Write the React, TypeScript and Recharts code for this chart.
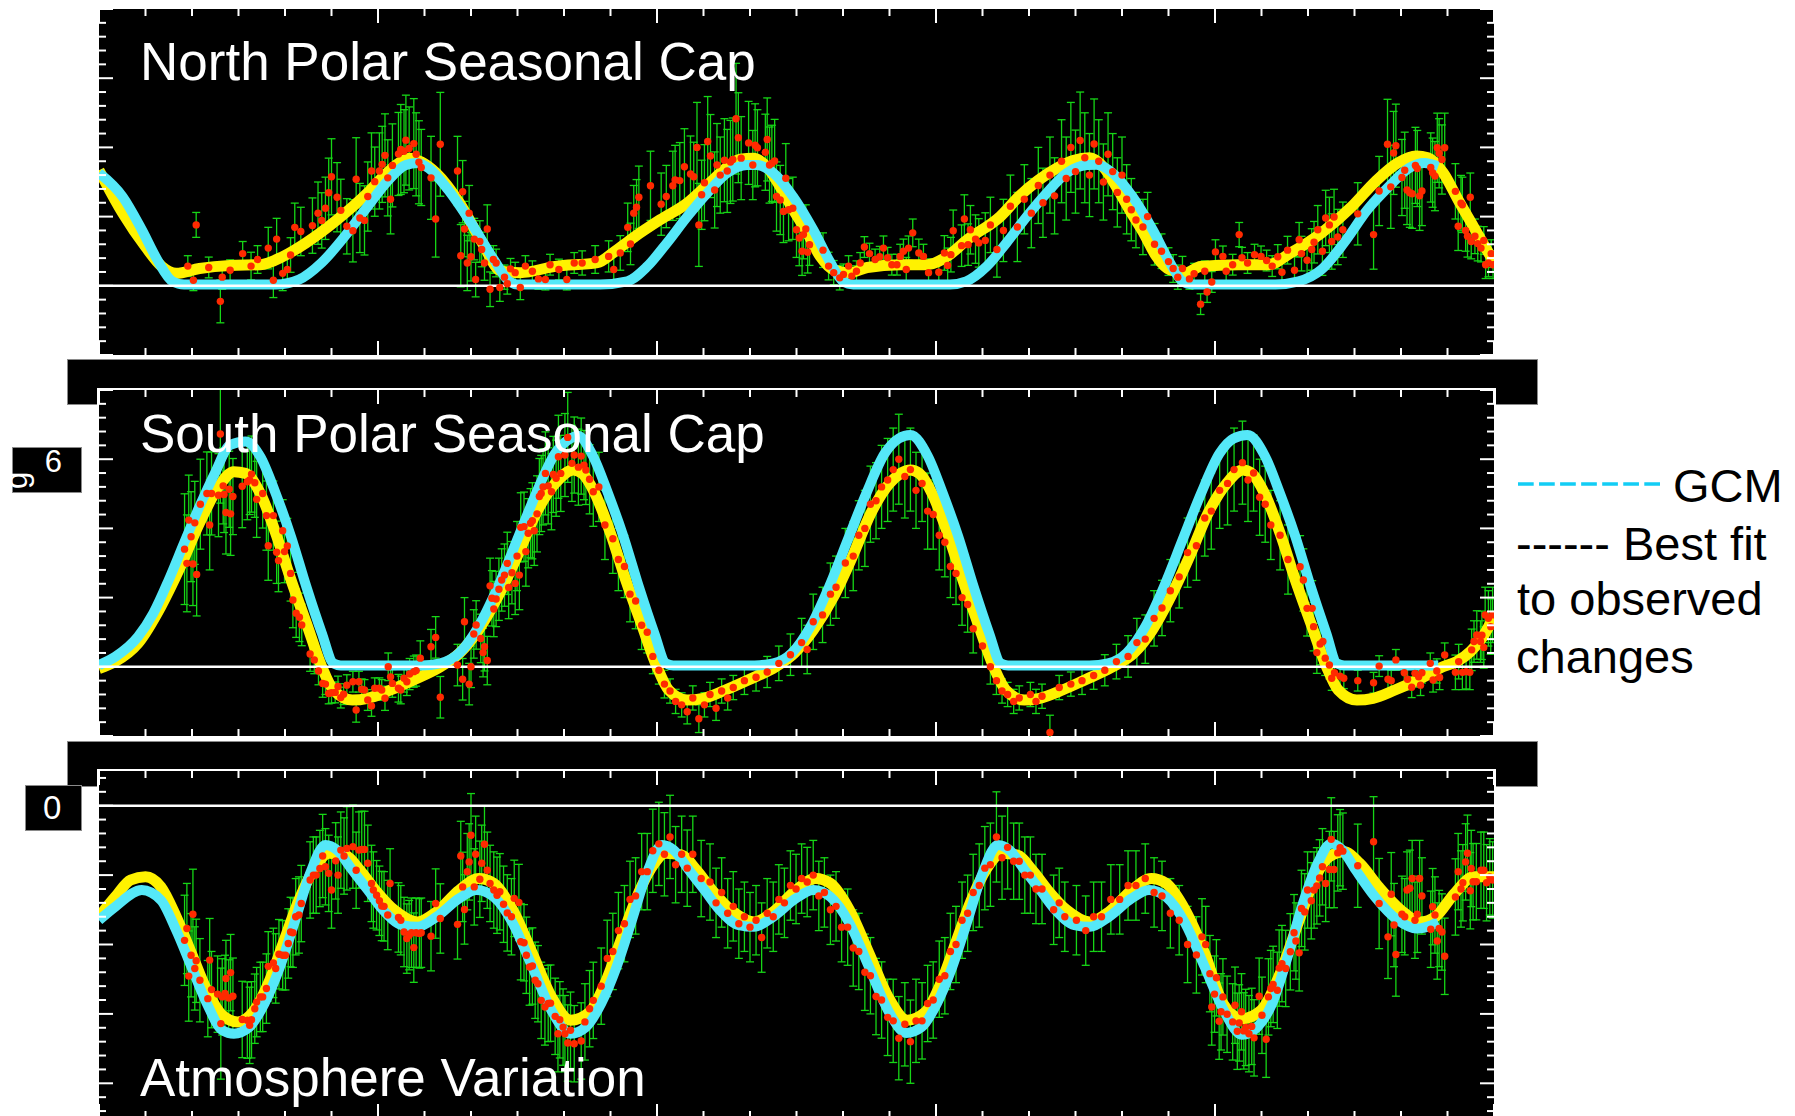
import { ComposedChart, Line, Scatter, ErrorBar, XAxis, YAxis, ReferenceLine } from "recharts";

type Pt = [number, number];
type Obs = [number, number, number]; // x, value, error

// x axis runs over 30 small steps, long tick every 6
const X_TICKS = [0, 1, 2, 3, 4, 5, 6, 7, 8, 9, 10, 11, 12, 13, 14, 15, 16, 17, 18, 19, 20, 21, 22, 23, 24, 25, 26, 27, 28, 29, 30];
const X_MAJOR = [0, 6, 12, 18, 24, 30];
const Y_TICKS_CAP = [-2, -1.6, -1.2, -0.8, -0.4, 0, 0.4, 0.8, 1.2, 1.6, 2, 2.4, 2.8, 3.2, 3.6, 4, 4.4, 4.8, 5.2, 5.6, 6, 6.4, 6.8, 7.2, 7.6, 8];
const Y_TICKS_ATM = [0.8, 0.4, 0, -0.4, -0.8, -1.2, -1.6, -2, -2.4, -2.8, -3.2, -3.6, -4, -4.4, -4.8, -5.2, -5.6, -6, -6.4, -6.8, -7.2, -7.6, -8, -8.4, -8.8];

const TITLES = ["North Polar Seasonal Cap", "South Polar Seasonal Cap", "Atmosphere Variation"];
const LEFT_LABELS = ["6", "0"];
const LEGEND_LINES = ["GCM", "------ Best fit", "to observed", "changes"];

// ---- North polar cap ----
const NORTH_FIT: Pt[] = [
  [0, 3.34], [0.51, 2.1], [1.0, 1.13], [1.35, 0.56], [1.66, 0.36], [2.16, 0.5], [2.82, 0.59], [3.47, 0.61], [3.96, 0.85],
  [4.46, 1.25], [5.12, 1.91], [5.77, 2.68], [6.11, 3.15], [6.44, 3.54], [6.68, 3.69], [6.93, 3.58], [7.25, 3.26], [7.75, 2.4],
  [8.24, 1.25], [8.65, 0.42], [9.06, 0.38], [9.81, 0.56], [10.72, 0.67], [11.06, 0.96], [11.49, 1.39], [12.07, 1.91],
  [12.65, 2.39], [13.08, 2.91], [13.51, 3.43], [13.79, 3.66], [14.07, 3.69], [14.37, 3.43], [14.65, 2.86], [14.93, 2.2],
  [15.23, 1.54], [15.51, 0.85], [15.79, 0.47], [16.15, 0.38], [16.52, 0.53], [17.23, 0.61], [17.81, 0.61], [18.24, 0.85],
  [18.67, 1.33], [19.38, 2.0], [19.8, 2.6], [20.2, 3.05], [20.6, 3.4], [20.95, 3.62], [21.3, 3.7], [21.6, 3.43], [21.88, 2.86],
  [22.16, 2.2], [22.46, 1.54], [22.74, 0.85], [23.02, 0.47], [23.38, 0.38], [23.69, 0.56], [24.5, 0.61], [25.14, 0.61],
  [25.64, 0.96], [26.3, 1.54], [26.95, 2.3], [27.44, 3.0], [27.92, 3.54], [28.33, 3.75], [28.58, 3.7], [28.91, 3.26],
  [29.23, 2.48], [29.56, 1.71], [29.88, 0.96], [30, 0.7],
];
const NORTH_GCM: Pt[] = [
  [0, 3.26], [0.51, 2.57], [0.92, 1.62], [1.25, 0.76], [1.58, 0.13], [1.83, 0.04], [3.8, 0.04], [4.3, 0.18], [4.79, 0.67],
  [5.28, 1.42], [5.77, 2.28], [6.19, 3.0], [6.6, 3.49], [6.85, 3.55], [7.09, 3.4], [7.51, 2.77], [8.0, 1.82], [8.49, 0.76],
  [8.82, 0.13], [8.99, 0.04], [10.78, 0.04], [11.36, 0.13], [11.79, 0.56], [12.22, 1.25], [12.65, 2.0], [13.08, 2.68],
  [13.51, 3.26], [13.94, 3.49], [14.15, 3.49], [14.5, 3.26], [14.93, 2.57], [15.36, 1.62], [15.73, 0.67], [16.0, 0.13],
  [16.22, 0.04], [18.3, 0.04], [18.65, 0.13], [19.09, 0.56], [19.52, 1.25], [19.95, 2.0], [20.38, 2.68], [20.81, 3.26],
  [21.25, 3.49], [21.45, 3.5], [21.8, 3.26], [22.23, 2.57], [22.66, 1.62], [23.03, 0.67], [23.3, 0.13], [23.52, 0.04],
  [25.3, 0.04], [25.8, 0.13], [26.29, 0.47], [26.78, 1.25], [27.28, 2.2], [27.77, 2.91], [28.17, 3.4], [28.5, 3.55], [28.8, 3.45],
];
const NORTH_OBS: Obs[] = [
  [1.91, 0.57, 0.3], [2.03, 0.16, 0.3], [2.09, 1.76, 0.36], [2.36, 0.53, 0.3], [2.61, -0.45, 0.62], [2.65, 0.25, 0.35],
  [2.82, 0.45, 0.3], [3.09, 0.93, 0.35], [3.27, 0.57, 0.4], [3.41, 0.76, 0.4], [3.64, 1.09, 0.6], [3.75, 0.16, 0.5],
  [3.82, 1.35, 0.6], [3.95, 0.36, 0.5], [4.05, 0.47, 0.5], [4.12, 0.89, 0.5], [4.21, 1.69, 0.7], [4.34, 1.57, 0.7],
  [4.59, 1.74, 0.8], [4.71, 2.1, 0.9], [4.79, 1.89, 0.8], [4.87, 2.24, 0.9], [4.94, 2.69, 1.0], [5.0, 3.15, 1.1],
  [5.12, 2.56, 1.0], [5.2, 2.18, 0.9], [5.33, 1.72, 0.8], [5.46, 1.59, 0.9], [5.53, 3.08, 1.2], [5.61, 1.96, 1.0],
  [5.71, 1.89, 1.0], [5.78, 2.58, 1.0], [5.86, 3.32, 1.1], [5.93, 3.01, 1.0], [6.03, 3.32, 1.1], [6.09, 3.51, 1.1],
  [6.15, 3.77, 1.2], [6.21, 3.12, 1.1], [6.27, 2.5, 1.0], [6.31, 3.48, 1.2], [6.44, 3.81, 1.2], [6.49, 3.94, 1.3],
  [6.56, 3.89, 1.2], [6.6, 4.21, 1.3], [6.67, 3.97, 1.2], [6.77, 4.11, 1.3], [6.82, 3.8, 1.2], [6.88, 3.57, 1.2],
  [6.93, 3.42, 1.1], [7.14, 3.12, 1.2], [7.24, 1.93, 1.1], [7.34, 4.09, 1.5], [7.71, 3.32, 1.0], [7.78, 0.87, 0.9],
  [7.82, 2.72, 0.9], [7.86, 1.64, 0.8], [7.92, 0.66, 0.8], [7.96, 2.1, 0.8], [8.0, 0.84, 0.7], [8.07, 1.35, 0.6],
  [8.1, 0.18, 0.5], [8.19, 1.28, 0.6], [8.23, 1.05, 0.5], [8.29, 0.66, 0.5], [8.35, 1.64, 0.7], [8.41, -0.1, 0.5],
  [8.48, 0.76, 0.4], [8.54, 0.66, 0.4], [8.62, -0.05, 0.4], [8.72, 0.25, 0.35], [8.78, 0.06, 0.3], [8.85, 0.49, 0.3],
  [8.95, 0.38, 0.3], [9.06, -0.05, 0.35], [9.17, 0.57, 0.3], [9.32, 0.42, 0.3], [9.45, 0.2, 0.3], [9.6, 0.18, 0.3],
  [9.7, 0.61, 0.3], [9.89, 0.47, 0.3], [10.06, 0.18, 0.3], [10.22, 0.66, 0.3], [10.39, 0.66, 0.35], [10.67, 0.76, 0.4],
  [10.96, 0.85, 0.45], [11.07, 0.47, 0.4], [11.21, 0.95, 0.5], [11.37, 1.69, 0.7], [11.43, 1.21, 0.6], [11.5, 2.1, 0.8],
  [11.56, 2.27, 0.8], [11.61, 2.56, 0.9], [11.86, 2.89, 1.0], [12.09, 2.36, 0.9], [12.2, 2.58, 0.9], [12.34, 2.89, 1.0],
  [12.39, 3.06, 1.0], [12.49, 3.04, 1.1], [12.59, 3.44, 1.1], [12.72, 3.23, 1.1], [12.79, 3.15, 1.0], [12.86, 4.0, 1.3],
  [12.9, 1.76, 1.2], [12.96, 2.63, 1.0], [13.02, 2.98, 1.1], [13.09, 4.17, 1.3], [13.15, 3.75, 1.2], [13.24, 2.77, 1.1],
  [13.29, 3.49, 1.2], [13.36, 3.2, 1.1], [13.45, 3.63, 1.2], [13.51, 3.32, 1.2], [13.58, 3.58, 1.2], [13.63, 3.65, 1.2],
  [13.7, 4.83, 1.6], [13.75, 4.28, 1.3], [13.81, 3.69, 1.2], [13.97, 4.13, 1.2], [14.06, 3.49, 1.0], [14.11, 4.06, 1.2],
  [14.16, 3.99, 1.1], [14.33, 3.86, 1.1], [14.37, 4.23, 1.2], [14.42, 3.49, 1.1], [14.47, 3.54, 1.1], [14.53, 3.61, 1.2],
  [14.57, 2.58, 1.0], [14.65, 2.48, 1.0], [14.72, 2.15, 0.9], [14.77, 3.11, 1.0], [14.83, 2.2, 0.9], [14.92, 2.24, 0.9],
  [15.0, 1.62, 0.8], [15.06, 1.38, 0.8], [15.12, 1.0, 0.7], [15.15, 1.48, 0.7], [15.2, 1.64, 0.7], [15.24, 0.97, 0.6],
  [15.28, 1.19, 0.6], [15.57, 1.03, 0.5], [15.69, 0.57, 0.4], [15.8, 0.38, 0.35], [15.93, 0.23, 0.35], [16.01, 0.33, 0.3],
  [16.12, 0.57, 0.3], [16.19, 0.28, 0.3], [16.29, 0.42, 0.3], [16.37, 0.66, 0.3], [16.46, 1.12, 0.3], [16.57, 0.93, 0.3],
  [16.69, 0.76, 0.3], [16.79, 0.84, 0.3], [16.87, 1.09, 0.35], [16.96, 0.81, 0.3], [17.05, 0.61, 0.3], [17.16, 0.61, 0.3],
  [17.23, 0.85, 0.35], [17.3, 1.0, 0.35], [17.36, 0.47, 0.35], [17.41, 1.09, 0.35], [17.5, 1.53, 0.4], [17.63, 0.95, 0.4],
  [17.73, 0.85, 0.35], [17.84, 0.38, 0.4], [18.06, 0.39, 0.4], [18.18, 0.95, 0.5], [18.25, 0.59, 0.5], [18.32, 0.9, 0.5],
  [18.37, 1.59, 0.6], [18.55, 1.16, 0.6], [18.61, 1.93, 0.7], [18.69, 1.19, 0.6], [18.74, 1.62, 0.7], [18.85, 1.35, 0.7],
  [18.92, 1.24, 0.7], [19.06, 1.31, 0.8], [19.17, 1.76, 0.8], [19.31, 1.05, 0.8], [19.45, 1.6, 0.9], [19.6, 2.3, 0.9],
  [19.75, 1.7, 1.0], [19.9, 2.5, 1.0], [20.05, 2.1, 1.0], [20.2, 2.9, 1.1], [20.3, 2.4, 1.0], [20.45, 3.2, 1.1],
  [20.55, 2.6, 1.1], [20.7, 3.6, 1.2], [20.8, 3.1, 1.2], [20.9, 4.0, 1.3], [21.0, 3.3, 1.2], [21.1, 4.2, 1.4],
  [21.2, 3.7, 1.3], [21.3, 3.2, 1.2], [21.4, 4.1, 1.3], [21.5, 3.6, 1.2], [21.6, 3.0, 1.1], [21.7, 3.8, 1.2],
  [21.8, 3.3, 1.1], [21.9, 2.7, 1.0], [22.0, 3.2, 1.1], [22.1, 2.5, 1.0], [22.2, 2.2, 0.9], [22.3, 1.9, 0.8],
  [22.45, 1.7, 0.8], [22.55, 2.0, 0.7], [22.7, 1.2, 0.6], [22.85, 1.0, 0.5], [23.0, 0.7, 0.4], [23.1, 0.5, 0.4],
  [23.2, 0.25, 0.35], [23.3, 0.5, 0.35], [23.45, 0.2, 0.3], [23.55, 0.35, 0.3], [23.69, -0.53, 0.3], [23.78, 0.42, 0.3],
  [23.83, -0.18, 0.3], [23.93, 0.11, 0.3], [24.01, 0.98, 0.35], [24.17, 0.85, 0.3], [24.24, 0.42, 0.3], [24.38, 0.61, 0.3],
  [24.52, 1.48, 0.35], [24.58, 0.81, 0.3], [24.7, 0.66, 0.3], [24.85, 0.9, 0.3], [24.99, 0.85, 0.3], [25.11, 0.73, 0.3],
  [25.23, 0.57, 0.3], [25.35, 0.84, 0.35], [25.44, 0.39, 0.35], [25.56, 1.03, 0.4], [25.71, 0.45, 0.4], [25.81, 1.33, 0.5],
  [25.86, 0.93, 0.5], [25.98, 0.74, 0.5], [26.08, 1.05, 0.6], [26.13, 1.26, 0.6], [26.21, 1.62, 0.7], [26.31, 1.0, 0.7],
  [26.38, 1.96, 0.8], [26.46, 1.76, 0.8], [26.51, 1.28, 0.8], [26.56, 1.99, 0.8], [26.64, 1.41, 0.8], [26.75, 1.62, 0.8],
  [27.07, 2.08, 0.9], [27.41, 1.48, 1.0], [27.53, 2.74, 1.0], [27.71, 4.09, 1.3], [27.78, 2.86, 1.2], [27.84, 3.84, 1.2],
  [27.89, 4.05, 1.2], [28.02, 3.13, 1.1], [28.08, 3.34, 1.1], [28.13, 2.77, 1.0], [28.19, 2.69, 1.0], [28.24, 2.66, 1.0],
  [28.31, 3.48, 1.1], [28.35, 3.39, 1.1], [28.4, 2.6, 1.0], [28.45, 2.74, 1.0], [28.64, 3.42, 1.0], [28.68, 3.27, 1.0],
  [28.73, 3.17, 1.0], [28.78, 3.99, 1.0], [28.82, 3.83, 1.0], [28.88, 3.65, 1.0], [28.94, 3.99, 1.0], [29.17, 2.73, 0.8],
  [29.23, 1.72, 0.7], [29.29, 2.39, 0.8], [29.32, 2.34, 0.8], [29.39, 1.6, 0.6], [29.43, 1.43, 0.6], [29.49, 2.56, 0.7],
  [29.51, 1.28, 0.5], [29.59, 1.43, 0.5], [29.65, 1.22, 0.5], [29.72, 1.09, 0.4], [29.78, 1.31, 0.4], [29.82, 0.61, 0.4],
  [29.88, 0.66, 0.4], [29.94, 0.93, 0.4], [29.98, 0.61, 0.4],
];

// ---- South polar cap ----
const SOUTH_FIT: Pt[] = [
  [0, -0.05], [0.35, 0.15], [0.84, 0.68], [1.33, 1.74], [1.75, 2.89], [2.16, 4.15], [2.57, 5.2], [2.9, 5.64], [3.15, 5.59],
  [3.47, 5.01], [3.8, 3.86], [4.13, 2.51], [4.46, 1.26], [4.79, 0.0], [5.04, -0.67], [5.45, -0.96], [5.78, -0.91],
  [6.27, -0.67], [6.76, -0.38], [7.34, 0.0], [7.75, 0.39], [8.16, 1.06], [8.58, 2.03], [8.99, 3.18], [9.4, 4.44], [9.81, 5.3],
  [10.2, 5.69], [10.4, 5.58], [10.67, 5.0], [11.0, 3.86], [11.33, 2.5], [11.66, 1.26], [12.0, 0.0], [12.25, -0.67],
  [12.65, -0.96], [13.0, -0.91], [13.47, -0.67], [13.96, -0.38], [14.55, 0.0], [14.95, 0.39], [15.36, 1.06], [15.8, 2.03],
  [16.2, 3.18], [16.6, 4.44], [17.0, 5.3], [17.45, 5.69], [17.65, 5.58], [17.92, 5.0], [18.25, 3.86], [18.58, 2.5],
  [18.9, 1.26], [19.24, 0.0], [19.5, -0.67], [19.9, -0.96], [20.23, -0.91], [20.72, -0.67], [21.2, -0.38], [21.8, 0.0],
  [22.25, 0.39], [22.65, 1.06], [23.05, 2.03], [23.45, 3.18], [23.85, 4.44], [24.25, 5.3], [24.6, 5.69], [24.8, 5.58],
  [25.07, 5.0], [25.4, 3.86], [25.73, 2.5], [26.06, 1.26], [26.4, 0.0], [26.65, -0.67], [27.05, -0.96], [27.4, -0.91],
  [27.87, -0.67], [28.36, -0.38], [28.9, 0.0], [29.2, 0.15], [29.5, 0.45], [29.75, 0.85], [30, 1.45],
];
const SOUTH_GCM: Pt[] = [
  [0, 0.05], [0.35, 0.29], [0.84, 0.87], [1.17, 1.55], [1.5, 2.51], [1.83, 3.58], [2.16, 4.63], [2.49, 5.59], [2.82, 6.41],
  [3.15, 6.51], [3.47, 6.07], [3.8, 5.01], [4.13, 3.76], [4.46, 2.31], [4.79, 0.98], [5.04, 0.1], [5.2, 0.04], [6.93, 0.04],
  [7.34, 0.1], [7.75, 0.4], [8.16, 1.16], [8.58, 2.31], [8.99, 3.66], [9.4, 5.01], [9.81, 6.17], [10.14, 6.6], [10.3, 6.68],
  [10.62, 6.1], [10.95, 5.0], [11.28, 3.76], [11.61, 2.31], [11.94, 0.98], [12.19, 0.1], [12.35, 0.04], [14.1, 0.04],
  [14.5, 0.1], [14.9, 0.4], [15.3, 1.16], [15.7, 2.31], [16.1, 3.66], [16.5, 5.01], [16.9, 6.17], [17.2, 6.6], [17.45, 6.7],
  [17.82, 6.1], [18.15, 5.0], [18.48, 3.76], [18.81, 2.31], [19.14, 0.98], [19.39, 0.1], [19.55, 0.04], [21.3, 0.04],
  [21.7, 0.1], [22.1, 0.4], [22.5, 1.16], [22.9, 2.31], [23.3, 3.66], [23.7, 5.01], [24.1, 6.17], [24.4, 6.6], [24.7, 6.7],
  [25.07, 6.1], [25.4, 5.0], [25.73, 3.76], [26.06, 2.31], [26.39, 0.98], [26.62, 0.1], [26.78, 0.04], [28.8, 0.04],
];
const SOUTH_OBS: Obs[] = [
  [1.84, 3.4, 1.6], [1.89, 2.99, 1.4], [1.93, 4.24, 1.3], [1.98, 3.76, 1.3], [2.02, 2.97, 1.2], [2.06, 4.16, 1.2],
  [2.1, 2.67, 1.2], [2.18, 4.7, 1.3], [2.32, 5.01, 1.2], [2.38, 4.1, 1.3], [2.42, 5.01, 1.2], [2.57, 4.96, 1.2],
  [2.61, 6.73, 2.0], [2.67, 5.23, 1.1], [2.69, 4.98, 1.1], [2.73, 4.46, 1.2], [2.8, 5.13, 1.1], [2.83, 4.42, 1.2],
  [2.88, 4.92, 1.1], [3.08, 5.22, 1.2], [3.19, 5.35, 1.1], [3.24, 5.4, 1.0], [3.28, 5.57, 1.1], [3.35, 5.32, 1.0],
  [3.39, 4.84, 1.1], [3.52, 5.01, 1.0], [3.6, 4.37, 1.0], [3.64, 3.5, 1.0], [3.75, 4.37, 1.0], [3.82, 3.31, 0.9],
  [3.86, 3.07, 0.9], [3.95, 3.93, 0.9], [3.99, 3.33, 0.9], [4.05, 3.49, 0.8], [4.12, 2.7, 0.8], [4.17, 1.93, 0.8],
  [4.24, 1.55, 0.7], [4.31, 1.43, 0.7], [4.36, 1.21, 0.6], [4.54, 0.37, 0.5], [4.63, 0.2, 0.4], [4.72, -0.12, 0.4],
  [4.81, -0.48, 0.4], [4.87, -0.5, 0.3], [4.94, -0.77, 0.3], [5.0, -0.75, 0.3], [5.08, -0.74, 0.3], [5.14, -0.57, 0.3],
  [5.2, -0.89, 0.3], [5.26, -0.79, 0.3], [5.33, -0.53, 0.3], [5.46, -0.43, 0.3], [5.53, -1.25, 0.35], [5.59, -0.43, 0.3],
  [5.65, -0.65, 0.3], [5.71, -0.67, 0.3], [5.78, -0.96, 0.3], [5.86, -1.13, 0.3], [5.93, -0.62, 0.3], [6.03, -0.62, 0.3],
  [6.08, -0.67, 0.3], [6.15, -0.91, 0.35], [6.22, 0.0, 0.4], [6.27, -0.29, 0.4], [6.31, -0.48, 0.4], [6.44, -0.62, 0.4],
  [6.49, -0.67, 0.4], [6.56, -0.33, 0.4], [6.62, -0.43, 0.4], [6.68, -0.21, 0.45], [6.77, -0.14, 0.45], [6.82, -0.11, 0.45],
  [6.91, 0.25, 0.5], [7.14, 0.58, 0.5], [7.24, 0.85, 0.6], [7.34, -0.88, 0.6], [7.71, 0.05, 0.6], [7.82, -0.36, 0.6],
  [7.86, 1.3, 0.7], [7.96, -0.5, 0.6], [8.0, 0.0, 0.6], [8.06, 0.95, 0.7], [8.11, 1.21, 0.7], [8.21, 0.82, 0.7],
  [8.26, 0.41, 0.7], [8.29, 0.58, 0.7], [8.35, 0.18, 0.7], [8.41, 2.34, 0.8], [8.45, 1.98, 0.8], [8.49, 1.67, 0.8],
  [8.54, 1.96, 0.8], [8.6, 2.24, 0.9], [8.66, 2.51, 0.9], [8.72, 2.65, 0.9], [8.78, 2.99, 0.9], [8.81, 2.29, 0.9],
  [8.88, 2.72, 0.9], [8.95, 2.41, 0.9], [8.99, 3.2, 1.0], [9.04, 2.65, 1.0], [9.07, 4.03, 1.0], [9.14, 4.05, 1.0],
  [9.18, 3.33, 1.0], [9.23, 3.86, 1.0], [9.28, 4.15, 1.0], [9.32, 4.22, 1.1], [9.36, 3.93, 1.0], [9.42, 4.42, 1.1],
  [9.47, 4.92, 1.1], [9.51, 5.01, 1.1], [9.55, 5.2, 1.1], [9.6, 5.59, 1.2], [9.66, 5.23, 1.1], [9.73, 5.06, 1.1],
  [9.77, 5.56, 1.1], [9.83, 5.45, 1.1], [9.88, 6.07, 1.2], [9.93, 5.59, 1.1], [10.02, 6.12, 1.2], [10.08, 6.63, 1.3],
  [10.17, 5.88, 1.1], [10.22, 6.12, 1.1], [10.31, 5.77, 1.1], [10.37, 6.09, 1.1], [10.43, 5.83, 1.0], [10.47, 5.69, 1.0],
  [10.55, 5.42, 1.0], [10.63, 5.06, 1.0], [10.75, 5.2, 1.0], [10.88, 4.1, 1.0], [11.05, 3.7, 1.0], [11.17, 3.1, 0.9],
  [11.3, 2.9, 0.9], [11.42, 2.1, 0.8], [11.54, 1.9, 0.8], [11.67, 1.2, 0.7], [11.79, 1.0, 0.6], [11.91, 0.3, 0.5],
  [12.04, -0.1, 0.4], [12.16, -0.5, 0.4], [12.28, -0.7, 0.35], [12.4, -1.0, 0.35], [12.53, -1.1, 0.35], [12.65, -1.3, 0.35],
  [12.77, -0.9, 0.35], [12.9, -1.5, 0.4], [13.02, -1.1, 0.35], [13.14, -0.8, 0.35], [13.27, -1.2, 0.35], [13.39, -0.7, 0.35],
  [13.52, -0.9, 0.35], [13.64, -0.6, 0.35], [13.88, -0.4, 0.4], [14.13, -0.3, 0.4], [14.37, -0.15, 0.45], [14.62, 0.1, 0.5],
  [14.87, 0.35, 0.6], [15.11, 0.7, 0.7], [15.23, 0.5, 0.7], [15.36, 1.3, 0.8], [15.56, 1.5, 0.8], [15.73, 2.1, 0.9],
  [15.85, 2.3, 0.9], [16.05, 3.0, 1.0], [16.22, 3.2, 1.0], [16.34, 3.8, 1.0], [16.47, 4.0, 1.1], [16.59, 4.7, 1.1],
  [16.71, 4.8, 1.1], [16.83, 5.2, 1.2], [16.96, 5.4, 1.2], [17.08, 5.7, 1.2], [17.2, 6.0, 1.3], [17.33, 5.5, 1.2],
  [17.45, 5.7, 1.2], [17.57, 5.1, 1.1], [17.7, 5.3, 1.1], [17.82, 4.5, 1.1], [17.94, 4.4, 1.0], [18.07, 3.8, 1.0],
  [18.19, 3.6, 1.0], [18.31, 2.9, 0.9], [18.43, 2.7, 0.9], [18.56, 2.0, 0.8], [18.68, 1.8, 0.8], [18.8, 1.1, 0.7],
  [19.0, 0.6, 0.6], [19.17, 0.0, 0.5], [19.3, -0.4, 0.4], [19.42, -0.7, 0.35], [19.54, -0.8, 0.35], [19.67, -1.0, 0.35],
  [19.79, -0.9, 0.35], [20.03, -0.8, 0.35], [20.15, -1.0, 0.35], [20.28, -0.85, 0.35], [20.45, -1.9, 0.5], [20.65, -0.6, 0.35],
  [20.9, -0.5, 0.35], [21.14, -0.4, 0.4], [21.39, -0.25, 0.4], [21.63, -0.1, 0.45], [21.88, 0.15, 0.5], [22.13, 0.3, 0.6],
  [22.32, 0.7, 0.7], [22.5, 0.8, 0.7], [22.69, 1.4, 0.8], [22.86, 1.7, 0.8], [23.04, 2.2, 0.9], [23.23, 2.6, 0.9],
  [23.41, 3.3, 1.0], [23.6, 3.5, 1.0], [23.78, 4.3, 1.1], [23.92, 4.5, 1.1], [24.1, 5.1, 1.1], [24.27, 5.3, 1.2],
  [24.41, 5.7, 1.2], [24.59, 5.9, 1.2], [24.71, 5.4, 1.2], [24.83, 5.6, 1.1], [24.96, 4.9, 1.1], [25.08, 4.7, 1.1],
  [25.2, 4.1, 1.0], [25.4, 3.8, 1.0], [25.57, 3.1, 1.0], [25.83, 2.89, 0.9], [25.9, 2.51, 0.9], [25.98, 1.69, 0.8],
  [26.09, 1.69, 0.8], [26.12, 1.16, 0.7], [26.19, 0.41, 0.6], [26.26, 0.66, 0.6], [26.32, 0.73, 0.5], [26.37, 0.25, 0.5],
  [26.46, 0.05, 0.4], [26.51, -0.33, 0.35], [26.57, -0.17, 0.35], [26.69, -0.27, 0.35], [26.77, -0.33, 0.3], [27.07, -0.4, 0.3],
  [27.41, -0.46, 0.3], [27.53, 0.02, 0.3], [27.72, -0.36, 0.3], [27.79, -0.4, 0.3], [27.89, 0.2, 0.3], [28.07, -0.17, 0.3],
  [28.14, -0.36, 0.3], [28.23, -0.59, 0.3], [28.3, -0.19, 0.3], [28.38, -0.29, 0.3], [28.42, -0.53, 0.3], [28.45, -0.17, 0.3],
  [28.63, 0.1, 0.3], [28.69, -0.38, 0.35], [28.77, -0.12, 0.35], [28.83, -0.31, 0.35], [28.94, 0.34, 0.35], [29.17, -0.16, 0.5],
  [29.24, 0.15, 0.5], [29.32, -0.16, 0.5], [29.4, -0.14, 0.5], [29.48, -0.16, 0.5], [29.52, 0.49, 0.6], [29.57, 0.73, 0.6],
  [29.63, 0.92, 0.7], [29.71, 0.73, 0.6], [29.74, 0.91, 0.7], [29.78, 0.56, 0.6], [29.81, 1.5, 0.8], [29.88, 1.4, 0.8],
  [29.93, 1.16, 0.8], [29.97, 1.5, 0.8],
];

// ---- Atmosphere ----
const ATM_FIT: Pt[] = [
  [0, -3.2], [0.35, -2.63], [0.68, -2.14], [1.0, -2.05], [1.33, -2.34], [1.66, -3.2], [1.99, -4.26], [2.32, -5.32],
  [2.65, -6.04], [2.98, -6.23], [3.31, -5.95], [3.64, -5.13], [3.96, -3.97], [4.3, -2.72], [4.63, -1.81], [4.95, -1.37],
  [5.28, -1.42], [5.61, -1.86], [5.94, -2.43], [6.35, -3.01], [6.85, -3.35], [7.26, -3.06], [7.75, -2.43], [8.17, -2.1],
  [8.49, -2.24], [8.9, -3.01], [9.32, -4.26], [9.73, -5.51], [10.14, -6.18], [10.55, -5.95], [10.88, -5.13], [11.2, -3.97],
  [11.54, -2.72], [11.87, -1.81], [12.19, -1.37], [12.52, -1.42], [12.85, -1.86], [13.18, -2.43], [13.59, -3.01],
  [14.09, -3.35], [14.5, -3.06], [14.99, -2.43], [15.41, -2.1], [15.73, -2.24], [16.14, -3.01], [16.56, -4.26],
  [16.97, -5.51], [17.38, -6.18], [17.77, -5.95], [18.1, -5.13], [18.42, -3.97], [18.76, -2.72], [19.09, -1.81],
  [19.41, -1.37], [19.74, -1.42], [20.07, -1.86], [20.4, -2.43], [20.81, -3.01], [21.31, -3.35], [21.72, -3.06],
  [22.21, -2.43], [22.63, -2.1], [22.95, -2.24], [23.36, -3.01], [23.78, -4.26], [24.17, -5.7], [24.58, -6.14],
  [24.99, -5.9], [25.4, -4.84], [25.81, -3.3], [26.13, -2.14], [26.46, -1.47], [26.78, -1.33], [27.11, -1.66],
  [27.52, -2.34], [28.0, -3.01], [28.41, -3.35], [28.74, -3.2], [29.15, -2.53], [29.56, -2.05], [30, -2.05],
];
const ATM_GCM: Pt[] = [
  [0, -3.3], [0.35, -2.91], [0.92, -2.43], [1.33, -2.72], [1.66, -3.59], [1.99, -4.65], [2.32, -5.7], [2.65, -6.47],
  [2.9, -6.57], [3.23, -6.38], [3.56, -5.7], [3.89, -4.65], [4.22, -3.3], [4.54, -1.95], [4.87, -1.13], [5.12, -1.28],
  [5.45, -1.86], [5.78, -2.43], [6.11, -3.01], [6.52, -3.44], [6.85, -3.49], [7.26, -3.2], [7.75, -2.67], [8.12, -2.43],
  [8.49, -2.63], [8.9, -3.39], [9.32, -4.65], [9.73, -5.9], [10.14, -6.57], [10.47, -6.38], [10.8, -5.7], [11.13, -4.65],
  [11.46, -3.3], [11.78, -1.95], [12.11, -1.13], [12.36, -1.28], [12.69, -1.86], [13.02, -2.43], [13.35, -3.01],
  [13.76, -3.44], [14.09, -3.49], [14.5, -3.2], [14.99, -2.67], [15.36, -2.43], [15.73, -2.63], [16.14, -3.39],
  [16.56, -4.65], [16.97, -5.9], [17.36, -6.55], [17.69, -6.38], [18.02, -5.7], [18.35, -4.65], [18.68, -3.3],
  [19.0, -1.95], [19.33, -1.13], [19.58, -1.28], [19.91, -1.86], [20.24, -2.43], [20.57, -3.01], [20.98, -3.44],
  [21.31, -3.49], [21.72, -3.2], [22.21, -2.67], [22.58, -2.43], [22.95, -2.63], [23.36, -3.39], [23.78, -4.65],
  [24.19, -5.9], [24.58, -6.6], [24.91, -6.38], [25.23, -5.7], [25.56, -4.36], [25.89, -2.82], [26.21, -1.66],
  [26.5, -1.09], [26.74, -1.28], [27.03, -1.86], [27.44, -2.63], [27.93, -3.3], [28.34, -3.54], [28.66, -3.44], [28.8, -3.35],
];
const ATM_OBS: Obs[] = [
  [1.84, -3.88, 1.3], [1.89, -3.54, 1.3], [1.93, -4.91, 1.3], [1.98, -4.31, 1.2], [2.02, -3.13, 1.3], [2.06, -4.69, 1.2],
  [2.09, -4.47, 1.2], [2.17, -5.03, 1.2], [2.34, -5.56, 1.1], [2.38, -4.45, 1.2], [2.42, -5.3, 1.1], [2.55, -5.43, 1.1],
  [2.62, -6.28, 1.6], [2.65, -5.51, 1.1], [2.71, -5.41, 1.1], [2.73, -4.98, 1.1], [2.79, -5.54, 1.1], [2.83, -4.81, 1.1],
  [2.88, -5.49, 1.1], [3.08, -6.16, 1.1], [3.19, -6.18, 1.1], [3.24, -6.33, 1.1], [3.28, -6.17, 1.1], [3.35, -5.85, 1.0],
  [3.39, -5.66, 1.0], [3.47, -5.51, 1.0], [3.52, -5.51, 1.0], [3.6, -5.27, 1.0], [3.64, -4.63, 1.0], [3.75, -4.53, 1.0],
  [3.8, -4.69, 1.0], [3.87, -4.28, 1.0], [3.95, -4.31, 1.0], [4.01, -4.31, 1.0], [4.07, -3.97, 1.0], [4.12, -3.64, 1.0],
  [4.17, -3.66, 1.0], [4.23, -3.2, 1.1], [4.3, -3.15, 1.1], [4.35, -2.82, 1.1], [4.54, -2.14, 1.1], [4.61, -2.0, 1.1],
  [4.67, -2.0, 1.1], [4.75, -1.81, 1.1], [4.81, -1.45, 1.2], [4.87, -1.76, 1.1], [4.94, -1.95, 1.1], [5.0, -2.43, 1.1],
  [5.09, -1.59, 1.1], [5.14, -2.0, 1.1], [5.2, -1.28, 1.1], [5.27, -1.45, 1.1], [5.33, -1.23, 1.2], [5.46, -1.18, 1.2],
  [5.53, -1.86, 1.1], [5.59, -1.28, 1.1], [5.65, -1.26, 1.1], [5.71, -1.26, 1.1], [5.78, -1.66, 1.1], [5.86, -2.24, 1.1],
  [5.9, -2.43, 1.1], [5.97, -2.58, 1.0], [6.03, -2.74, 1.0], [6.08, -2.89, 1.0], [6.13, -2.9, 1.0], [6.21, -3.15, 1.0],
  [6.26, -2.24, 1.0], [6.44, -3.22, 1.0], [6.49, -3.3, 1.0], [6.56, -3.64, 1.0], [6.62, -3.83, 1.0], [6.67, -3.73, 1.0],
  [6.72, -3.66, 1.0], [6.77, -4.09, 1.0], [6.82, -3.66, 1.0], [6.89, -3.68, 1.0], [6.93, -3.66, 1.0], [7.14, -3.76, 1.0],
  [7.24, -2.82, 1.0], [7.34, -3.25, 1.0], [7.71, -3.42, 1.0], [7.78, -1.45, 1.0], [7.82, -2.34, 1.0], [7.86, -2.99, 1.0],
  [7.92, -1.9, 1.1], [7.96, -1.62, 1.1], [8.0, -0.85, 1.2], [8.07, -2.34, 1.1], [8.1, -1.4, 1.1], [8.19, -2.12, 1.1],
  [8.23, -1.66, 1.1], [8.29, -1.11, 1.1], [8.35, -1.86, 1.1], [8.41, -2.24, 1.1], [8.49, -2.43, 1.1], [8.56, -2.58, 1.1],
  [8.62, -2.48, 1.1], [8.7, -2.84, 1.1], [8.78, -3.09, 1.1], [8.87, -3.2, 1.1], [8.93, -2.67, 1.1], [9.03, -2.79, 1.1],
  [9.07, -3.92, 1.1], [9.14, -3.95, 1.1], [9.19, -4.31, 1.1], [9.26, -4.65, 1.1], [9.32, -4.62, 1.1], [9.38, -5.03, 1.1],
  [9.44, -5.13, 1.1], [9.51, -5.61, 1.1], [9.59, -5.8, 1.1], [9.66, -5.7, 1.1], [9.71, -5.69, 1.1], [9.81, -6.07, 1.1],
  [9.87, -6.57, 1.1], [9.91, -6.17, 1.1], [9.98, -6.38, 1.1], [10.02, -6.57, 1.1], [10.08, -6.84, 1.1], [10.14, -6.47, 1.1],
  [10.22, -6.86, 1.1], [10.37, -6.78, 1.1], [10.45, -6.23, 1.1], [10.55, -5.85, 1.1], [10.63, -5.61, 1.1], [10.8, -5.2, 1.1],
  [10.93, -4.4, 1.1], [11.05, -4.2, 1.1], [11.17, -3.6, 1.1], [11.3, -3.4, 1.1], [11.42, -2.7, 1.1], [11.54, -2.6, 1.1],
  [11.67, -1.9, 1.1], [11.79, -1.9, 1.1], [11.91, -1.3, 1.2], [12.04, -1.1, 1.2], [12.16, -1.4, 1.2], [12.28, -0.9, 1.2],
  [12.4, -1.7, 1.1], [12.53, -1.4, 1.1], [12.65, -1.8, 1.1], [12.77, -1.4, 1.1], [12.95, -2.1, 1.1], [13.14, -2.2, 1.1],
  [13.27, -2.8, 1.0], [13.39, -2.5, 1.0], [13.52, -3.1, 1.0], [13.64, -2.9, 1.0], [13.76, -3.4, 1.0], [13.88, -3.2, 1.0],
  [14.0, -3.5, 1.0], [14.13, -3.3, 1.0], [14.25, -3.8, 1.0], [14.37, -3.1, 1.0], [14.5, -3.2, 1.0], [14.62, -2.7, 1.0],
  [14.74, -2.8, 1.0], [14.87, -2.3, 1.0], [14.99, -2.4, 1.0], [15.11, -2.1, 1.0], [15.23, -2.2, 1.0], [15.36, -2.0, 1.0],
  [15.48, -2.6, 1.0], [15.6, -2.5, 1.0], [15.73, -3.0, 1.0], [15.85, -2.9, 1.0], [15.97, -3.5, 1.0], [16.1, -3.5, 1.1],
  [16.22, -4.1, 1.1], [16.34, -4.2, 1.1], [16.47, -4.8, 1.1], [16.59, -4.9, 1.1], [16.71, -5.5, 1.1], [16.83, -5.6, 1.1],
  [16.96, -6.1, 1.1], [17.08, -6.2, 1.2], [17.2, -6.7, 1.2], [17.33, -6.3, 1.2], [17.45, -6.8, 1.2], [17.57, -6.2, 1.2],
  [17.7, -6.2, 1.1], [17.82, -5.7, 1.1], [17.94, -5.6, 1.1], [18.07, -5.0, 1.1], [18.19, -4.9, 1.1], [18.31, -4.2, 1.1],
  [18.43, -4.0, 1.1], [18.56, -3.3, 1.1], [18.68, -3.1, 1.1], [18.8, -2.5, 1.1], [18.93, -2.3, 1.2], [19.05, -1.8, 1.2],
  [19.17, -1.7, 1.2], [19.3, -0.9, 1.3], [19.42, -1.5, 1.2], [19.54, -1.2, 1.2], [19.67, -1.6, 1.1], [19.79, -1.6, 1.1],
  [19.91, -2.0, 1.1], [20.03, -2.0, 1.1], [20.15, -2.4, 1.0], [20.28, -2.4, 1.0], [20.53, -3.0, 1.0], [20.65, -2.8, 1.0],
  [20.77, -3.2, 1.0], [21.02, -3.3, 1.0], [21.22, -3.6, 1.0], [21.39, -3.2, 1.0], [21.56, -3.2, 1.0], [21.76, -2.7, 1.0],
  [21.95, -2.7, 1.0], [22.13, -2.3, 1.0], [22.3, -2.3, 1.0], [22.5, -2.1, 1.0], [22.69, -2.5, 1.0], [22.86, -2.6, 1.0],
  [23.04, -3.1, 1.0], [23.23, -3.3, 1.0], [23.41, -4.0, 1.1], [23.6, -4.3, 1.1], [23.72, -3.78, 1.1], [23.8, -4.0, 1.1],
  [23.89, -4.84, 1.1], [23.93, -5.8, 1.1], [23.99, -5.43, 1.1], [24.03, -4.96, 1.1], [24.09, -6.21, 1.1], [24.13, -5.94, 1.1],
  [24.17, -5.51, 1.1], [24.26, -6.01, 1.1], [24.38, -6.23, 1.1], [24.43, -5.75, 1.1], [24.48, -6.5, 1.1], [24.52, -6.26, 1.1],
  [24.57, -5.94, 1.1], [24.62, -6.49, 1.1], [24.66, -6.39, 1.1], [24.73, -6.57, 1.1], [24.79, -6.36, 1.1], [24.84, -6.69, 1.1],
  [24.95, -5.49, 1.1], [25.01, -6.04, 1.1], [25.1, -6.73, 1.1], [25.15, -5.51, 1.1], [25.2, -5.27, 1.1], [25.25, -5.15, 1.1],
  [25.34, -5.32, 1.1], [25.38, -4.68, 1.1], [25.44, -4.55, 1.1], [25.52, -4.69, 1.1], [25.62, -4.21, 1.1], [25.7, -3.66, 1.1],
  [25.74, -3.9, 1.1], [25.81, -4.24, 1.1], [25.86, -2.96, 1.1], [25.93, -3.06, 1.1], [25.99, -2.43, 1.1], [26.07, -2.74, 1.1],
  [26.13, -2.43, 1.1], [26.19, -2.31, 1.1], [26.25, -2.08, 1.1], [26.31, -1.76, 1.1], [26.38, -2.24, 1.1], [26.46, -1.84, 1.1],
  [26.5, -0.97, 1.2], [26.56, -1.84, 1.1], [26.64, -1.36, 1.1], [26.69, -1.21, 1.1], [26.75, -1.31, 1.1], [27.07, -1.73, 1.2],
  [27.41, -1.04, 1.3], [27.53, -2.82, 1.3], [27.72, -3.78, 1.2], [27.79, -2.55, 1.2], [27.85, -3.44, 1.2], [27.89, -4.29, 1.2],
  [28.02, -3.13, 1.1], [28.08, -3.2, 1.1], [28.13, -2.43, 1.1], [28.19, -2.38, 1.1], [28.24, -2.1, 1.1], [28.3, -3.3, 1.1],
  [28.35, -3.13, 1.1], [28.4, -2.1, 1.1], [28.45, -2.6, 1.1], [28.64, -3.56, 1.1], [28.68, -2.91, 1.1], [28.73, -3.15, 1.1],
  [28.78, -3.9, 1.1], [28.82, -3.54, 1.1], [28.88, -3.64, 1.1], [28.94, -4.34, 1.1], [29.17, -2.63, 1.1], [29.23, -1.9, 1.1],
  [29.29, -2.4, 1.1], [29.33, -2.22, 1.1], [29.39, -1.62, 1.1], [29.43, -1.37, 1.1], [29.49, -2.45, 1.1], [29.51, -1.81, 1.1],
  [29.55, -2.19, 1.1], [29.62, -2.19, 1.1], [29.72, -1.86, 1.1], [29.78, -1.86, 1.1], [29.84, -2.22, 1.1], [29.91, -2.05, 1.1],
  [29.97, -2.14, 1.1],
];

const CYAN = "#55e8f8";
const YELLOW = "#fff200";
const RED = "#ff2a00";
const GREEN = "#16d616";

const PLOT_LEFT = 99;
const PLOT_W = 1395;
const FONT = '"Liberation Sans", Arial, Helvetica, sans-serif';

const isMajorY = (v: number) => Math.abs(v % 2) < 1e-6;

// axes are 1px thick (a 0px axis is not drawn), so the plot starts at x=1 inside the svg
const makeXTick = (h: number) => (props: any) => {
  const x = props.x;
  const len = X_MAJOR.includes(props.payload.value) ? 14 : 7;
  return (
    <g>
      <line x1={x} x2={x} y1={h} y2={h - len} stroke="#fff" strokeWidth={2} />
      <line x1={x} x2={x} y1={0} y2={len} stroke="#fff" strokeWidth={2} />
    </g>
  );
};

const yTick = (props: any) => {
  const y = props.y;
  const len = isMajorY(props.payload.value) ? 14 : 7;
  return (
    <g>
      <line x1={1} x2={1 + len} y1={y} y2={y} stroke="#fff" strokeWidth={2} />
      <line x1={1 + PLOT_W} x2={1 + PLOT_W - len} y1={y} y2={y} stroke="#fff" strokeWidth={2} />
    </g>
  );
};

const RedDot = (p: any) => <circle cx={p.cx} cy={p.cy} r={3.7} fill={RED} />;
const NoDot = () => <g />;

interface PanelProps {
  top: number;
  height: number;
  domain: [number, number];
  yTicks: number[];
  gcm: Pt[];
  fit: Pt[];
  obs: Obs[];
}

function Panel({ top, height, domain, yTicks, gcm, fit, obs }: PanelProps) {
  const gcmData = gcm.map(([x, y]) => ({ x, y }));
  const fitData = fit.map(([x, y]) => ({ x, y }));
  const obsData = obs.map(([x, y, e]) => ({ x, y, e }));
  return (
    <div
      style={{
        position: "absolute",
        left: PLOT_LEFT - 2,
        top: top - 2,
        width: PLOT_W + 4,
        height: height + 4,
        background: "#000",
        border: "2px solid #fff",
        boxSizing: "border-box",
      }}
    >
      <div style={{ position: "absolute", left: -1, top: 0 }}>
        <ComposedChart width={PLOT_W + 1} height={height + 1} margin={{ top: 0, right: 0, bottom: 0, left: 0 }}>
          <XAxis
            type="number"
            dataKey="x"
            domain={[0, 30]}
            ticks={X_TICKS}
            interval={0}
            height={1}
            axisLine={false}
            tickLine={false}
            tick={makeXTick(height)}
            allowDataOverflow
          />
          <YAxis
            type="number"
            dataKey="y"
            domain={domain}
            ticks={yTicks}
            interval={0}
            width={1}
            axisLine={false}
            tickLine={false}
            tick={yTick}
            allowDataOverflow
          />
          <Scatter data={obsData} dataKey="y" shape={NoDot} isAnimationActive={false} zIndex={300}>
            <ErrorBar dataKey="e" direction="y" width={4} stroke={GREEN} strokeWidth={1.3} isAnimationActive={false} zIndex={300} />
          </Scatter>
          <Line data={fitData} dataKey="y" type="monotone" stroke={YELLOW} strokeWidth={11} dot={false} activeDot={false} isAnimationActive={false} zIndex={400} />
          <Line data={gcmData} dataKey="y" type="monotone" stroke={CYAN} strokeWidth={10} dot={false} activeDot={false} isAnimationActive={false} zIndex={410} />
          <ReferenceLine y={0} stroke="#fff" strokeWidth={2.5} zIndex={450} />
          <Scatter data={obsData} dataKey="y" shape={RedDot} isAnimationActive={false} zIndex={600} />
        </ComposedChart>
      </div>
    </div>
  );
}

const titleStyle: React.CSSProperties = {
  position: "absolute",
  left: 140,
  fontSize: 53,
  lineHeight: "53px",
  color: "#fff",
  whiteSpace: "nowrap",
};

const legendStyle: React.CSSProperties = {
  position: "absolute",
  fontSize: 47,
  lineHeight: "47px",
  color: "#000",
  whiteSpace: "nowrap",
};

const barStyle: React.CSSProperties = {
  position: "absolute",
  left: 67,
  width: 1471,
  height: 46,
  background: "#000",
  border: "1px solid #8a8a8a",
  boxSizing: "border-box",
};

const patchStyle: React.CSSProperties = {
  position: "absolute",
  height: 46,
  background: "#000",
  border: "1px solid #8a8a8a",
  boxSizing: "border-box",
  color: "#fff",
};

export default function App() {
  return (
    <div
      style={{
        position: "absolute",
        left: 0,
        top: 0,
        width: 1795,
        height: 1116,
        overflow: "hidden",
        background: "#fff",
        fontFamily: FONT,
      }}
    >
      <div style={{ ...barStyle, top: 359 }} />
      <div style={{ ...barStyle, top: 741 }} />

      <Panel top={9} height={346} domain={[-2, 8]} yTicks={Y_TICKS_CAP} gcm={NORTH_GCM} fit={NORTH_FIT} obs={NORTH_OBS} />
      <Panel top={390} height={346} domain={[-2, 8]} yTicks={Y_TICKS_CAP} gcm={SOUTH_GCM} fit={SOUTH_FIT} obs={SOUTH_OBS} />
      <Panel top={771} height={347} domain={[-9, 1]} yTicks={Y_TICKS_ATM} gcm={ATM_GCM} fit={ATM_FIT} obs={ATM_OBS} />

      <div style={{ ...titleStyle, top: 35 }}>{TITLES[0]}</div>
      <div style={{ ...titleStyle, top: 407 }}>{TITLES[1]}</div>
      <div style={{ ...titleStyle, top: 1051 }}>{TITLES[2]}</div>

      {/* leftover tick-label patches on the left */}
      <div style={{ ...patchStyle, left: 12, top: 447, width: 70 }}>
        <span style={{ position: "absolute", left: 31.7, top: 0, fontSize: 31, lineHeight: "28px" }}>{LEFT_LABELS[0]}</span>
        <span
          style={{
            position: "absolute",
            left: -6.6,
            top: 40.5,
            fontSize: 31,
            lineHeight: "22px",
            transformOrigin: "0 0",
            transform: "rotate(-90deg)",
          }}
        >
          g
        </span>
      </div>
      <div style={{ ...patchStyle, left: 25, top: 785, width: 57 }}>
        <span style={{ position: "absolute", left: 17, top: 5, fontSize: 33, lineHeight: "33px" }}>{LEFT_LABELS[1]}</span>
      </div>

      {/* legend */}
      <svg style={{ position: "absolute", left: 1518, top: 480 }} width={142} height={8}>
        <line x1={0} y1={4} x2={142} y2={4} stroke="#12cdf5" strokeWidth={3.4} strokeDasharray="15.7 5.35" />
      </svg>
      <div style={{ ...legendStyle, left: 1673, top: 462 }}>{LEGEND_LINES[0]}</div>
      <div style={{ ...legendStyle, left: 1516, top: 520 }}>{LEGEND_LINES[1]}</div>
      <div style={{ ...legendStyle, left: 1517, top: 575 }}>{LEGEND_LINES[2]}</div>
      <div style={{ ...legendStyle, left: 1516, top: 633 }}>{LEGEND_LINES[3]}</div>
    </div>
  );
}
